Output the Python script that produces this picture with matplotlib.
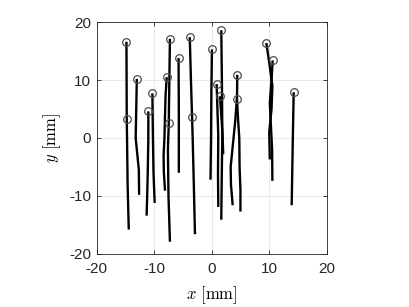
import numpy as np
import matplotlib
matplotlib.use('Agg')
import matplotlib.pyplot as plt

plt.rcParams['font.family'] = ['Liberation Sans', 'DejaVu Sans']
plt.rcParams['mathtext.fontset'] = 'cm'
plt.rcParams['axes.unicode_minus'] = False

# trajectories (x, y) in mm
tracks = [
    ([-14.8, -14.75, -14.7, -14.6, -14.4], [16.6, 3.2, 0, -8, -15.8]),
    ([-13.0, -13.1, -13.2, -12.9, -12.65, -12.6], [10.2, 5, 0, -3, -5.5, -9.8]),
    ([-11.0, -11.0, -11.1, -11.2, -11.3], [4.6, 0, -6, -10, -13.4]),
    ([-10.3, -10.2, -10.1, -9.9], [7.7, 0, -6, -11.2]),
    ([-7.8, -8.0, -8.1, -8.2, -8.35, -8.3, -8.1], [10.5, 7.5, 4, 0, -3, -6, -9.1]),
    ([-7.25, -7.35, -7.45, -7.6, -7.5, -7.25], [17.1, 10, 2.6, -2, -10, -17.9]),
    ([-5.75, -5.7, -5.7], [13.8, 4, -6.0]),
    ([-3.8, -3.6, -3.4, -3.3, -3.1, -2.9], [17.4, 10, 3.6, 0, -8, -16.6]),
    ([0.05, -0.05, -0.1, -0.2], [15.3, 8, 0.5, -7.2]),
    ([1.67, 1.8, 1.85, 1.75, 1.67], [18.6, 8, 0.5, -7, -14.1]),
    ([0.87, 1.0, 1.15, 1.1, 1.15], [9.3, 5, 0.5, -6, -11.9]),
    ([1.44, 1.7, 1.9, 2.0], [7.2, 3.5, 0.5, -2.8]),
    ([4.45, 4.4, 4.1, 3.8, 3.3, 3.35, 3.65], [10.9, 7, 3, 0, -5, -8, -11.6]),
    ([4.4, 4.6, 4.8, 4.85, 5.0, 5.0], [6.7, 3, 0, -5, -9, -12.7]),
    ([9.5, 10.0, 10.55, 10.4, 10.0, 10.1], [16.4, 13, 9, 5, 1, -3.7]),
    ([10.6, 10.4, 10.1, 10.3, 10.5, 10.55], [13.4, 10, 6, 2, -2, -7.4]),
    ([14.25, 14.1, 13.9], [7.9, 0, -11.6]),
]

# start markers
mark_x = [-14.8, -14.75, -13.0, -11.0, -10.3, -7.8, -7.25, -7.4, -5.75, -3.8,
          -3.4, 0.05, 1.67, 0.87, 1.44, 4.45, 4.4, 9.5, 10.6, 14.25]
mark_y = [16.6, 3.2, 10.2, 4.6, 7.7, 10.5, 17.1, 2.6, 13.8, 17.4,
          3.6, 15.3, 18.6, 9.3, 7.2, 10.9, 6.7, 16.4, 13.4, 7.9]

ticks = [-20, -10, 0, 10, 20]

fig = plt.figure(figsize=(4.09, 3.07), dpi=100)
ax = fig.add_axes([0.236, 0.173, 0.563, 0.755])

for tx, ty in tracks:
    ax.plot(tx, ty, color='k', lw=1.7, solid_capstyle='butt', solid_joinstyle='round')
ax.plot(mark_x, mark_y, 'o', ms=5.5, mfc='none', mec='0.3', mew=0.9)

ax.set_xlim(-20, 20)
ax.set_ylim(-20, 20)
ax.set_xticks(ticks)
ax.set_yticks(ticks)
ax.grid(True, color='0.9', lw=0.6)
ax.set_axisbelow(True)
ax.tick_params(direction='in', length=3, width=0.6, top=True, right=True,
               labelsize=11, colors='0.15')
ax.tick_params(axis='x', pad=6)
ax.tick_params(axis='y', pad=4)
for s in ax.spines.values():
    s.set_color('0.15')
    s.set_linewidth(0.6)

ax.set_xlabel(r'$x\ [\mathrm{mm}]$', fontsize=12, labelpad=6)
ax.set_ylabel(r'$y\ [\mathrm{mm}]$', fontsize=12, labelpad=4)

fig.savefig('out.png', dpi=100)
